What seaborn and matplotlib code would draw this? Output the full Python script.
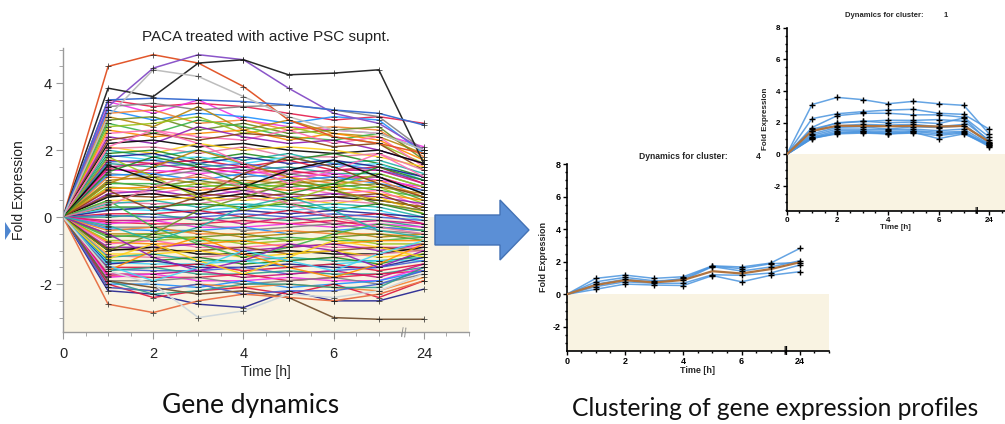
import matplotlib
matplotlib.use("Agg")
import matplotlib.pyplot as plt
import numpy as np
import pandas as pd
import seaborn as sns
from matplotlib.patches import FancyArrow, Polygon
from matplotlib.ticker import MultipleLocator, FixedLocator, FixedFormatter

# ---------------- data ----------------
times = [0, 1, 2, 3, 4, 5, 6, 7, 8]          # position 8 = 24 h (axis break)
time_tick_pos = [0, 2, 4, 6, 8]
time_tick_labels = ["0", "2", "4", "6", "24"]

# prominent outlier genes (values at t = 1..24 h; t=0 is 0)
outlier_orange = [4.5, 4.85, 4.6, 3.9, 2.9, 2.4, 2.2, 1.9]
outlier_purple = [3.3, 4.45, 4.85, 4.7, 3.85, 3.1, 2.8, 2.0]
outlier_black = [3.85, 3.6, 4.6, 4.7, 4.25, 4.3, 4.4, 1.6]
outlier_blue = [3.5, 3.55, 3.5, 3.45, 3.35, 3.2, 3.1, 2.75]
outlier_grey = [3.0, 4.4, 4.2, 3.6, 3.0, 2.6, 2.5, 2.0]
outlier_low_brown = [-1.9, -2.1, -2.3, -2.2, -2.4, -3.0, -3.05, -3.05]
outlier_low_orange = [-2.6, -2.85, -2.5, -2.3, -2.4, -2.5, -2.3, -1.9]
outlier_low_grey = [-1.6, -2.0, -3.0, -2.8, -2.3, -2.4, -2.2, -1.7]

upper_profiles = [
    [3.5, 3.3, 3.4, 3.3, 3.1, 2.9, 3.0, 2.8],
    [3.45, 3.1, 3.5, 2.9, 2.7, 2.6, 2.5, 2.1],
    [3.3, 3.4, 3.2, 3.3, 3.35, 3.2, 3.0, 2.0],
    [3.2, 2.9, 3.1, 3.0, 2.8, 3.0, 2.9, 1.9],
    [3.1, 3.2, 2.8, 2.9, 2.6, 2.7, 2.6, 1.8],
    [3.0, 2.7, 3.3, 2.6, 2.9, 2.5, 2.4, 1.9],
    [2.9, 3.0, 2.6, 2.8, 2.5, 2.6, 2.7, 1.7],
    [2.8, 2.5, 2.9, 2.7, 2.4, 2.3, 2.5, 2.0],
    [2.7, 2.8, 3.0, 2.5, 2.7, 2.4, 2.2, 1.6],
    [2.6, 2.4, 2.5, 2.6, 2.3, 2.5, 2.3, 1.7],
    [2.5, 2.6, 2.4, 2.3, 2.6, 2.2, 2.4, 1.5],
    [2.4, 2.2, 2.7, 2.4, 2.2, 2.3, 2.0, 1.6],
    [2.3, 2.5, 2.3, 2.5, 2.4, 2.1, 2.2, 1.4],
]

band_profiles = [
    [2.2, 2.3, 2.1, 2.2, 2.0, 1.9, 2.0, 1.6],
    [2.1, 1.9, 2.2, 2.0, 2.1, 2.0, 1.8, 1.5],
    [2.05, 2.1, 1.9, 2.1, 1.8, 1.8, 1.9, 1.4],
    [2.0, 1.8, 2.0, 1.7, 1.9, 1.6, 1.7, 1.3],
    [1.9, 2.0, 1.7, 1.9, 1.7, 1.9, 1.6, 1.2],
    [1.85, 1.7, 1.8, 1.6, 1.8, 1.5, 1.6, 1.1],
    [1.8, 1.9, 1.6, 1.8, 1.6, 1.7, 1.5, 1.2],
    [1.7, 1.6, 1.7, 1.5, 1.7, 1.4, 1.5, 1.0],
    [1.65, 1.7, 1.5, 1.6, 1.4, 1.6, 1.4, 1.1],
    [1.6, 1.5, 1.6, 1.4, 1.5, 1.3, 1.3, 0.9],
    [1.5, 1.6, 1.4, 1.5, 1.3, 1.4, 1.4, 1.0],
    [1.45, 1.3, 1.5, 1.3, 1.4, 1.2, 1.2, 0.8],
    [1.4, 1.4, 1.3, 1.4, 1.2, 1.3, 1.1, 0.9],
    [1.3, 1.2, 1.4, 1.2, 1.3, 1.1, 1.2, 0.7],
    [1.25, 1.3, 1.1, 1.3, 1.1, 1.2, 1.0, 0.8],
    [1.2, 1.1, 1.2, 1.0, 1.2, 1.0, 1.1, 0.6],
    [1.1, 1.2, 1.0, 1.1, 1.0, 1.1, 0.9, 0.7],
    [1.05, 0.9, 1.1, 0.9, 1.1, 0.9, 1.0, 0.5],
    [1.0, 1.0, 0.9, 1.0, 0.9, 1.0, 0.8, 0.6],
    [0.9, 0.8, 1.0, 0.8, 1.0, 0.8, 0.9, 0.4],
    [0.85, 0.9, 0.8, 0.9, 0.8, 0.9, 0.7, 0.5],
    [0.8, 0.7, 0.9, 0.7, 0.9, 0.7, 0.8, 0.3],
    [0.7, 0.8, 0.6, 0.8, 0.6, 0.7, 0.6, 0.4],
    [0.65, 0.6, 0.7, 0.6, 0.7, 0.6, 0.7, 0.2],
    [0.6, 0.7, 0.5, 0.7, 0.5, 0.6, 0.5, 0.3],
    [0.5, 0.5, 0.6, 0.5, 0.6, 0.4, 0.6, 0.1],
    [0.45, 0.4, 0.4, 0.6, 0.4, 0.5, 0.4, 0.2],
    [0.4, 0.5, 0.3, 0.4, 0.3, 0.4, 0.3, 0.0],
    [0.3, 0.3, 0.4, 0.3, 0.4, 0.2, 0.4, 0.1],
    [0.25, 0.2, 0.2, 0.3, 0.2, 0.3, 0.2, -0.1],
    [0.2, 0.3, 0.1, 0.2, 0.1, 0.2, 0.1, 0.0],
    [0.1, 0.1, 0.2, 0.0, 0.2, 0.0, 0.1, -0.2],
    [0.05, 0.0, 0.0, 0.1, 0.0, 0.1, 0.0, -0.1],
    [0.0, 0.1, -0.1, 0.0, -0.1, 0.0, -0.1, -0.3],
    [-0.1, -0.1, 0.0, -0.2, 0.0, -0.2, -0.1, -0.2],
    [-0.15, -0.2, -0.2, -0.1, -0.2, -0.1, -0.3, -0.4],
    [-0.2, -0.1, -0.3, -0.3, -0.2, -0.3, -0.2, -0.3],
    [-0.3, -0.3, -0.2, -0.4, -0.3, -0.2, -0.4, -0.5],
    [-0.35, -0.4, -0.4, -0.3, -0.5, -0.4, -0.3, -0.4],
    [-0.4, -0.3, -0.5, -0.5, -0.4, -0.5, -0.5, -0.6],
    [-0.5, -0.5, -0.4, -0.6, -0.5, -0.4, -0.6, -0.5],
    [-0.55, -0.6, -0.6, -0.5, -0.7, -0.6, -0.5, -0.7],
    [-0.6, -0.5, -0.7, -0.7, -0.6, -0.7, -0.7, -0.6],
    [-0.7, -0.7, -0.6, -0.8, -0.7, -0.6, -0.8, -0.8],
    [-0.75, -0.8, -0.8, -0.7, -0.9, -0.8, -0.7, -0.7],
    [-0.8, -0.7, -0.9, -0.9, -0.8, -0.9, -0.9, -0.9],
    [-0.9, -0.9, -0.8, -1.0, -0.9, -0.8, -1.0, -0.8],
    [-0.95, -1.0, -1.0, -0.9, -1.1, -1.0, -0.9, -1.0],
    [-1.0, -0.9, -1.1, -1.1, -1.0, -1.1, -1.1, -0.9],
    [-1.1, -1.1, -1.0, -1.2, -1.1, -1.0, -1.2, -1.1],
    [-1.15, -1.2, -1.2, -1.1, -1.3, -1.2, -1.1, -1.0],
    [-1.2, -1.1, -1.3, -1.3, -1.2, -1.3, -1.3, -1.2],
    [-1.3, -1.3, -1.2, -1.4, -1.3, -1.2, -1.4, -1.1],
    [-1.35, -1.4, -1.4, -1.3, -1.5, -1.4, -1.3, -1.3],
    [-1.4, -1.3, -1.5, -1.5, -1.4, -1.5, -1.5, -1.2],
    [-1.5, -1.5, -1.4, -1.6, -1.5, -1.4, -1.6, -1.4],
    [-1.55, -1.6, -1.6, -1.5, -1.7, -1.6, -1.5, -1.3],
    [-1.6, -1.5, -1.7, -1.7, -1.6, -1.7, -1.7, -1.5],
    [-1.7, -1.7, -1.6, -1.8, -1.7, -1.6, -1.8, -1.4],
    [-1.75, -1.8, -1.8, -1.7, -1.9, -1.8, -1.7, -1.6],
    [-1.8, -1.7, -1.9, -1.9, -1.8, -1.9, -1.9, -1.5],
    [-1.9, -1.9, -1.8, -2.0, -1.9, -1.8, -2.0, -1.7],
    [-2.0, -2.0, -2.1, -1.9, -2.1, -2.0, -1.9, -1.6],
    [-2.1, -2.2, -2.0, -2.1, -2.0, -2.1, -2.2, -1.8],
    [1.0, 1.5, 2.0, 1.6, 1.2, 0.8, 0.5, 0.3],
    [-1.0, -0.5, 0.2, 0.6, 1.0, 0.8, 0.4, 0.2],
    [0.5, -0.3, -0.8, -1.2, -0.9, -0.5, -0.2, -0.4],
    [1.8, 1.2, 0.6, 0.2, 0.5, 0.9, 1.3, 0.9],
    [-1.6, -1.0, -0.6, -1.1, -1.5, -1.8, -1.4, -0.8],
    [2.1, 2.6, 2.2, 1.6, 1.0, 1.4, 1.9, 1.2],
    [-0.5, -1.2, -1.6, -1.3, -0.8, -1.0, -1.5, -1.0],
    [0.8, 0.2, 0.6, 1.3, 1.8, 1.5, 1.0, 0.6],
    [1.55, 1.1, 0.7, 0.9, 1.4, 1.7, 1.2, 0.7],
    [-1.25, -0.8, -1.3, -1.7, -1.2, -0.7, -0.9, -1.2],
    [0.35, 0.9, 1.3, 0.9, 0.4, 0.0, -0.3, -0.5],
    [-0.25, -0.7, -0.3, 0.3, 0.6, 0.2, -0.4, -0.6],
    [1.35, 1.8, 1.5, 1.0, 0.7, 1.0, 1.5, 1.1],
    [-1.45, -1.9, -1.5, -1.0, -1.3, -1.6, -1.1, -0.7],
]

lower_profiles = [
    [-2.2, -2.3, -2.6, -2.7, -2.2, -2.5, -2.5, -2.15],
    [-2.0, -2.4, -2.2, -2.1, -2.3, -2.0, -2.4, -1.9],
    [-2.1, -2.2, -2.0, -2.3, -2.2, -2.2, -2.0, -1.6],
    [-1.9, -2.3, -2.2, -2.0, -2.0, -2.1, -2.1, -1.5],
]

cluster4_profiles = [
    [0.98, 1.18, 0.98, 1.08, 1.75, 1.68, 1.92, 2.82],
    [0.77, 1.04, 0.83, 0.88, 1.70, 1.43, 1.68, 2.06],
    [0.47, 0.77, 0.68, 0.68, 1.20, 1.17, 1.31, 1.80],
    [0.31, 0.63, 0.57, 0.54, 1.15, 0.77, 1.17, 1.39],
    [0.62, 0.92, 0.75, 0.98, 1.72, 1.58, 1.88, 1.95],
]
cluster4_mean = [0.57, 0.87, 0.73, 0.88, 1.42, 1.28, 1.55, 1.97]

cluster1_profiles = [
    [3.15, 3.6, 3.46, 3.2, 3.35, 3.2, 3.1, 1.3],
    [2.26, 2.57, 2.7, 2.8, 2.85, 2.6, 2.53, 1.6],
    [1.7, 2.45, 2.6, 2.6, 2.5, 2.5, 2.35, 1.1],
    [1.6, 1.98, 2.08, 2.16, 2.15, 2.2, 2.1, 0.9],
    [1.5, 2.0, 2.1, 2.0, 2.05, 1.95, 2.3, 0.8],
    [1.45, 1.8, 1.9, 1.85, 1.9, 1.75, 1.9, 0.7],
    [1.3, 1.71, 1.75, 1.6, 1.75, 1.7, 1.8, 0.75],
    [1.2, 1.6, 1.6, 1.55, 1.6, 1.5, 1.6, 0.65],
    [1.1, 1.5, 1.5, 1.45, 1.5, 1.4, 1.45, 0.6],
    [1.05, 1.4, 1.45, 1.35, 1.45, 1.3, 1.4, 0.55],
    [1.02, 1.3, 1.35, 1.3, 1.35, 1.2, 1.35, 0.5],
    [1.0, 1.35, 1.4, 1.3, 1.4, 1.0, 1.3, 0.6],
]
cluster1_mean = [1.49, 1.81, 1.8, 1.78, 1.8, 1.76, 1.8, 0.8]

# ---------------- styling ----------------
sns.set_style("ticks")
plt.rcParams["font.family"] = ["Liberation Sans", "DejaVu Sans"]
plt.rcParams["axes.unicode_minus"] = False

BEIGE = "#f9f3e2"
W, H = 1005, 424
fig = plt.figure(figsize=(W / 100, H / 100), dpi=100)


def long_df(profiles, prefix):
    rows = []
    for i, prof in enumerate(profiles):
        for t, v in zip(times, [0.0] + list(prof)):
            rows.append((f"{prefix}{i:03d}", t, v))
    return pd.DataFrame(rows, columns=["gene", "time", "value"])


def px_axes(x0, x1, ytop, ybot):
    return fig.add_axes([x0 / W, (H - ybot) / H, (x1 - x0) / W, (ybot - ytop) / H])


# ---------------- left panel: all gene dynamics ----------------
axL = px_axes(63, 469, 48, 332)
axL.set_facecolor("none")
axL.set_xlim(0, 9.0)
axL.set_ylim(-3.43, 5.05)
axL.axhspan(-3.43, 0, color=BEIGE, zorder=0, lw=0)

base_cols = ["#e6194b", "#3cb44b", "#ffd21a", "#4363d8", "#f58231", "#911eb4",
             "#42d4f4", "#f032e6", "#9ac31c", "#e87aa0", "#2a9d8f", "#b8860b",
             "#8b4513", "#1f1f8f", "#808080", "#ff8c00", "#20b2aa", "#c71585",
             "#6b8e23", "#000000", "#dc143c", "#1e90ff", "#ff69b4", "#228b22"]
band_all = upper_profiles + band_profiles + lower_profiles
df_band = long_df(band_all, "g")
genes = df_band["gene"].unique()
pal = {g: base_cols[(i * 7) % len(base_cols)] for i, g in enumerate(genes)}
sns.lineplot(data=df_band, x="time", y="value", hue="gene", palette=pal,
             legend=False, lw=1.05, alpha=0.9, estimator=None, sort=False, ax=axL)

special = {
    "orange": (outlier_orange, "#e2572b"),
    "purple": (outlier_purple, "#8b55c9"),
    "black": (outlier_black, "#2a2a2a"),
    "blue": (outlier_blue, "#3b6fd2"),
    "grey": (outlier_grey, "#bdbdbd"),
    "lowbrown": (outlier_low_brown, "#7a5a3a"),
    "loworange": (outlier_low_orange, "#e8744a"),
    "lowgrey": (outlier_low_grey, "#cfd8dc"),
}
df_sp = pd.concat([long_df([v[0]], k) for k, v in special.items()], ignore_index=True)
sp_pal = {f"{k}000": v[1] for k, v in special.items()}
sns.lineplot(data=df_sp, x="time", y="value", hue="gene", palette=sp_pal,
             legend=False, lw=1.1, estimator=None, sort=False, ax=axL)

df_all = pd.concat([df_band, df_sp], ignore_index=True)
sns.scatterplot(data=df_all[df_all["time"] > 0], x="time", y="value", marker="+",
                color="#1a1a1a", s=16, linewidth=0.7, alpha=0.7, ax=axL, zorder=5)

axL.set_title("PACA treated with active PSC supnt.", fontsize=11, color="#222222", pad=5)
axL.set_xlabel("Time [h]", fontsize=10, color="#222222")
axL.set_ylabel("Fold Expression", fontsize=10, color="#222222")
axL.xaxis.set_label_coords(0.5, -0.115)
axL.yaxis.set_label_coords(-0.09, 0.5)
axL.xaxis.set_major_locator(FixedLocator(time_tick_pos))
axL.xaxis.set_major_formatter(FixedFormatter(time_tick_labels))
axL.xaxis.set_minor_locator(MultipleLocator(0.5))
axL.yaxis.set_major_locator(FixedLocator([-2, 0, 2, 4]))
axL.yaxis.set_minor_locator(MultipleLocator(0.5))
axL.tick_params(which="both", colors="#9a9a9a", labelcolor="#222222", labelsize=10.5)
axL.tick_params(axis="x", which="major", length=5, pad=6)
axL.tick_params(axis="x", which="minor", length=3)
axL.tick_params(axis="y", which="major", length=5, pad=3)
axL.tick_params(axis="y", which="minor", length=3)
for s in ["top", "right"]:
    axL.spines[s].set_visible(False)
for s in ["left", "bottom"]:
    axL.spines[s].set_color("#9a9a9a")
    axL.spines[s].set_linewidth(1.0)
axL.text(7.55, -3.43, "||", ha="center", va="center", fontsize=8, color="#888888",
         rotation=-8, zorder=6)


# ---------------- cluster panels ----------------
def cluster_panel(ax, profiles, mean, xmax, ylo, cluster_id, fs, title_y):
    ax.set_facecolor("none")
    ax.set_xlim(0, xmax)
    ax.set_ylim(ylo, 8)
    ax.axhspan(ylo, 0, color=BEIGE, zorder=0, lw=0)
    dfc = long_df(profiles, "c")
    sns.lineplot(data=dfc, x="time", y="value", units="gene", color="#4a94de",
                 estimator=None, lw=1.1, alpha=0.85, sort=False, ax=ax)
    dfm = long_df([mean], "m")
    sns.lineplot(data=dfm, x="time", y="value", color="#b0743f", lw=1.6,
                 estimator=None, sort=False, ax=ax, zorder=4)
    sns.scatterplot(data=dfc[dfc["time"] > 0], x="time", y="value", marker="+",
                    color="black", s=16, linewidth=1.0, ax=ax, zorder=5)
    ax.xaxis.set_major_locator(FixedLocator(time_tick_pos))
    ax.xaxis.set_major_formatter(FixedFormatter(time_tick_labels))
    ax.xaxis.set_minor_locator(MultipleLocator(0.5))
    ax.yaxis.set_major_locator(FixedLocator([-2, 0, 2, 4, 6, 8]))
    ax.yaxis.set_minor_locator(MultipleLocator(0.5))
    ax.tick_params(which="both", colors="black", labelsize=fs, width=1.0)
    ax.tick_params(which="major", length=3, pad=1.5)
    ax.tick_params(which="minor", length=1.5)
    for lab in ax.get_xticklabels() + ax.get_yticklabels():
        lab.set_fontweight("bold")
    for s in ["top", "right"]:
        ax.spines[s].set_visible(False)
    for s in ["left", "bottom"]:
        ax.spines[s].set_color("black")
        ax.spines[s].set_linewidth(1.2)
    ax.set_xlabel("Time [h]", fontsize=fs, fontweight="bold", labelpad=0)
    ax.set_ylabel("Fold Expression", fontsize=fs, fontweight="bold", labelpad=3)
    ax.text(0.445, title_y, "Dynamics for cluster:", transform=ax.transAxes,
            ha="center", va="center", fontsize=fs * 0.95, fontweight="bold")
    ax.text(0.73, title_y, str(cluster_id), transform=ax.transAxes,
            ha="center", va="center", fontsize=fs * 0.95, fontweight="bold")
    ax.text(7.5, ylo, "||", ha="center", va="center", fontsize=fs, fontweight="bold",
            color="black", zorder=6)


axM = px_axes(566.7, 829, 164, 350.7)
cluster_panel(axM, cluster4_profiles, cluster4_mean, 9.0, -3.46, 4, 6.5, 1.04)

axR = px_axes(786.7, 1005, 27.7, 210.7)
cluster_panel(axR, cluster1_profiles, cluster1_mean, (1005 - 786.7) / 25.3, -3.55, 1, 5.8, 1.064)

# ---------------- arrow and captions ----------------
arrow = FancyArrow(435 / W, (H - 230) / H, (529 - 435) / W, 0, width=30 / H,
                   head_width=60 / H, head_length=29 / W, length_includes_head=True,
                   transform=fig.transFigure, facecolor="#5b8fd6", edgecolor="#4372b5",
                   lw=1.0, zorder=10)
fig.patches.append(arrow)
tri = Polygon([(5 / W, (H - 222) / H), (5 / W, (H - 240) / H), (11 / W, (H - 231) / H)],
              closed=True, transform=fig.transFigure, facecolor="#4f86cf",
              edgecolor="none", zorder=10)
fig.patches.append(tri)

fig.text(251 / W, 1 - 405 / H, "Gene dynamics", ha="center", va="center",
         fontsize=19, family=["Lato", "DejaVu Sans"], color="#111111")
fig.text(775 / W, 1 - 408 / H, "Clustering of gene expression profiles", ha="center",
         va="center", fontsize=17.7, family=["Lato", "DejaVu Sans"], color="#111111")

fig.savefig("out.png", dpi=100)
